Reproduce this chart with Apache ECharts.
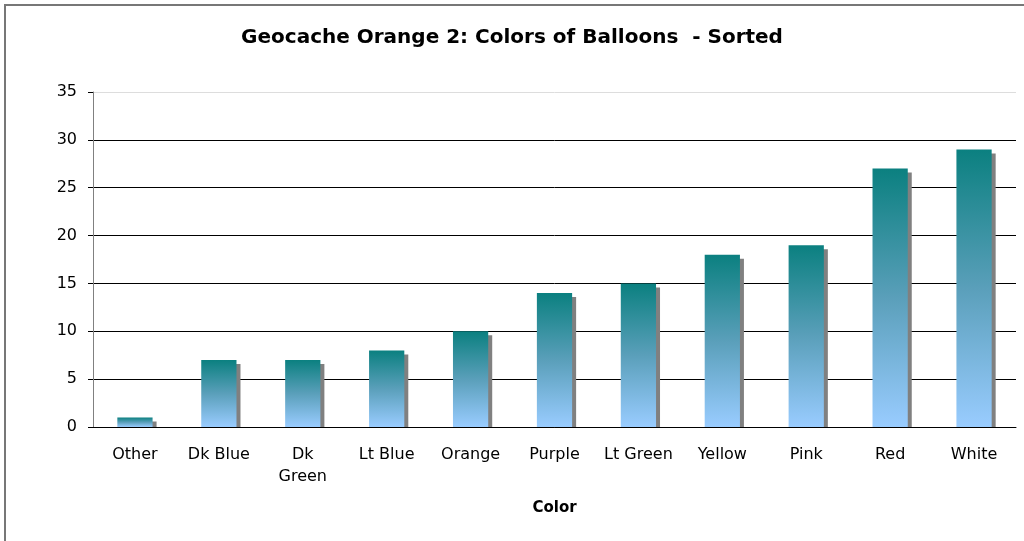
<!DOCTYPE html>
<html>
<head>
<meta charset="utf-8">
<script src="https://cdn.jsdelivr.net/npm/echarts@6/dist/echarts.min.js"></script>
<style>
  html, body { margin: 0; padding: 0; background: #fff; }
  #frame { position: absolute; left: 4px; top: 4px; width: 1030px; height: 545px;
           border-left: 2px solid #777; border-top: 2px solid #777; }
  #chart { position: absolute; left: 0; top: 0; width: 1024px; height: 541px; }
</style>
</head>
<body>
<div id="frame"></div>
<div id="chart"></div>
<script>
var categories = ['Other', 'Dk Blue', 'Dk Green', 'Lt Blue', 'Orange', 'Purple', 'Lt Green', 'Yellow', 'Pink', 'Red', 'White'];
var counts = [1, 7, 7, 8, 10, 14, 15, 18, 19, 27, 29];
var yTicks = [0, 5, 10, 15, 20, 25, 30, 35];

var chart = echarts.init(document.querySelector('#chart'), null);
var font = 'DejaVu Sans, Verdana, sans-serif';

var option = {
    animation: false,
    title: {
        text: 'Geocache Orange 2: Colors of Balloons  - Sorted',
        left: 'center',
        top: 23,
        textStyle: { fontFamily: font, fontSize: 20, fontWeight: 'bold', color: '#000' }
    },
    grid: { left: 93, right: 8, top: 92, bottom: 114 },
    xAxis: {
        type: 'category',
        data: categories,
        name: 'Color',
        nameLocation: 'middle',
        nameGap: 74,
        nameTextStyle: { fontFamily: font, fontSize: 15, fontWeight: 'bold', color: '#000' },
        axisLine: { lineStyle: { color: '#000', width: 1 } },
        axisTick: { length: 5, lineStyle: { color: '#000' } },
        axisLabel: {
            fontFamily: font, fontSize: 16, color: '#000', margin: 17, interval: 0, lineHeight: 22,
            formatter: function (v) { return v === 'Dk Green' ? 'Dk\nGreen' : v; }
        }
    },
    yAxis: {
        type: 'value',
        min: yTicks[0],
        max: yTicks[yTicks.length - 1],
        interval: 5,
        axisLine: { show: true, lineStyle: { color: '#808080' } },
        axisTick: { show: true, length: 5, lineStyle: { color: '#000' } },
        axisLabel: { fontFamily: font, fontSize: 16, color: '#000', margin: 16 },
        splitLine: {
            lineStyle: { color: ['#000', '#000', '#000', '#000', '#000', '#000', '#000', '#ddd'], width: 1 }
        }
    },
    series: [
        {
            // drop shadow behind each bar
            type: 'custom',
            z: 1,
            data: counts,
            renderItem: function (params, api) {
                var top = api.coord([api.value(0), api.value(1)]);
                var base = api.coord([api.value(0), 0]);
                var w = api.size([1, 0])[0] * 0.42;
                var y0 = Math.min(top[1] + 4, base[1]);
                return {
                    type: 'rect',
                    shape: { x: top[0] - w / 2 + 4, y: y0, width: w, height: base[1] - y0 },
                    style: { fill: '#808080' }
                };
            },
            encode: { x: 0, y: 1 }
        },
        {
            type: 'bar',
            z: 2,
            data: counts,
            barWidth: '42%',
            itemStyle: {
                color: new echarts.graphic.LinearGradient(0, 0, 0, 1, [
                    { offset: 0, color: '#0b8080' },
                    { offset: 0.5, color: '#5a9fba' },
                    { offset: 1, color: '#99ccff' }
                ])
            }
        }
    ]
};

chart.setOption(option);

window.addEventListener('resize', function () {
    chart.resize();
});
</script>
</body>
</html>
